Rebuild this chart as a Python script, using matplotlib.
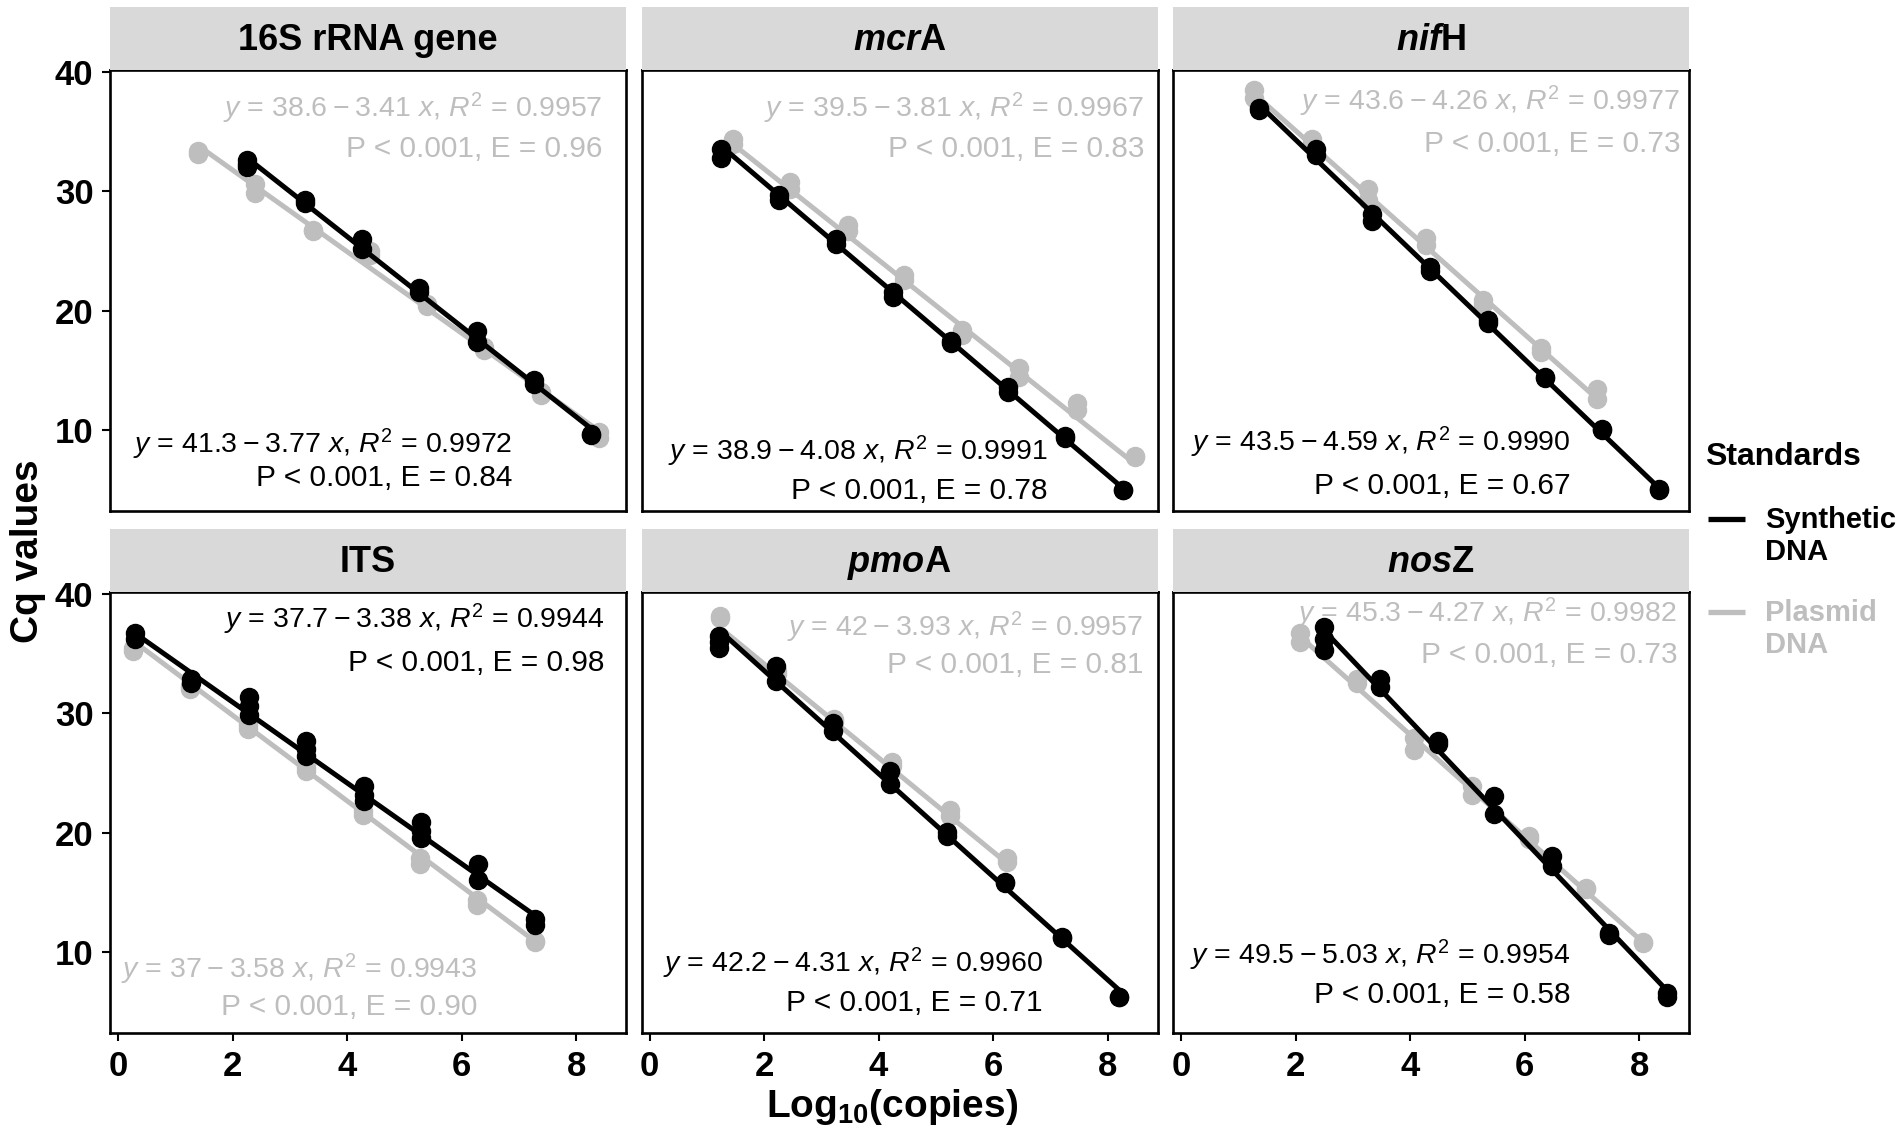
import numpy as np
import matplotlib
matplotlib.use("Agg")
import matplotlib.pyplot as plt
from matplotlib.lines import Line2D

plt.rcParams['font.family'] = ['Liberation Sans', 'DejaVu Sans']
plt.rcParams['mathtext.fontset'] = 'custom'
plt.rcParams['mathtext.rm'] = 'Liberation Sans'
plt.rcParams['mathtext.it'] = 'Liberation Sans:italic'
plt.rcParams['mathtext.bf'] = 'Liberation Sans:bold'
plt.rcParams['mathtext.bfit'] = 'Liberation Sans:italic:bold'

# ---- data ----
genes = ['16S rRNA gene', 'mcrA', 'nifH', 'ITS', 'pmoA', 'nosZ']
strip_labels = ['16S rRNA gene', r'$\mathbfit{mcr}$A', r'$\mathbfit{nif}$H',
                'ITS', r'$\mathbfit{pmo}$A', r'$\mathbfit{nos}$Z']
standards = ['Synthetic DNA', 'Plasmid DNA']

# log10 copies of each dilution, synthetic DNA
syn_x = {
    '16S rRNA gene': [2.26, 3.26, 4.26, 5.26, 6.26, 7.26, 8.26],
    'mcrA': [1.25, 2.26, 3.26, 4.26, 5.27, 6.26, 7.26, 8.27],
    'nifH': [1.36, 2.35, 3.34, 4.35, 5.36, 6.35, 7.35, 8.35],
    'ITS': [0.29, 1.28, 2.28, 3.29, 4.29, 5.29, 6.29, 7.28],
    'pmoA': [1.21, 2.21, 3.21, 4.20, 5.20, 6.21, 7.21, 8.20],
    'nosZ': [2.49, 3.48, 4.48, 5.47, 6.47, 7.48, 8.48],
}
# Cq replicates per dilution, synthetic DNA
syn_cq = {
    '16S rRNA gene': [[32.6, 32.3, 32.0], [29.3, 29.0], [26.0, 25.2], [21.9, 21.6],
                      [18.3, 17.4], [14.2, 13.9], [9.7, 9.6]],
    'mcrA': [[33.5, 32.8], [29.7, 29.3], [26.0, 25.6], [21.6, 21.2], [17.5, 17.3],
             [13.6, 13.2], [9.5, 9.4], [5.0, 5.0]],
    'nifH': [[37.0, 36.8], [33.5, 33.0], [28.1, 27.5], [23.7, 23.3], [19.2, 19.0],
             [14.5, 14.4], [10.1, 10.0], [5.1, 5.0]],
    'ITS': [[36.7, 36.2], [32.9, 32.5], [31.4, 30.6, 29.9], [27.7, 27.0, 26.4],
            [23.9, 23.2, 22.7], [20.9, 20.2, 19.6], [17.4, 16.1], [12.8, 12.3]],
    'pmoA': [[36.5, 36.0, 35.5], [34.0, 32.7], [29.2, 28.5], [25.2, 24.1],
             [20.1, 19.7], [15.9, 15.8], [11.3, 11.2], [6.3, 6.3]],
    'nosZ': [[37.2, 36.2, 35.3], [32.9, 32.2], [27.7, 27.4], [23.1, 21.6],
             [18.1, 17.2], [11.6, 11.5], [6.6, 6.3]],
}
# plasmid DNA
pla_x = {
    '16S rRNA gene': [1.40, 2.39, 3.40, 4.40, 5.39, 6.39, 7.39, 8.39],
    'mcrA': [1.45, 2.45, 3.46, 4.45, 5.45, 6.46, 7.46, 8.47],
    'nifH': [1.27, 2.28, 3.26, 4.27, 5.28, 6.28, 7.26],
    'ITS': [0.27, 1.25, 2.27, 3.28, 4.27, 5.27, 6.26, 7.28],
    'pmoA': [1.23, 2.23, 3.22, 4.24, 5.24, 6.24],
    'nosZ': [2.07, 3.07, 4.06, 5.08, 6.07, 7.08, 8.07],
}
pla_cq = {
    '16S rRNA gene': [[33.4, 33.1], [30.6, 29.9], [26.8, 26.7], [25.0, 24.7],
                      [20.6, 20.4], [17.0, 16.7], [13.2, 13.0], [9.9, 9.4]],
    'mcrA': [[34.4, 34.0], [30.8, 30.2], [27.2, 26.7], [23.0, 22.6], [18.4, 18.0],
             [15.2, 14.5], [12.3, 11.7], [7.9, 7.8]],
    'nifH': [[38.5, 37.8], [34.4, 34.0], [30.2, 29.3], [26.1, 25.5], [20.9, 20.6],
             [16.9, 16.6], [13.5, 12.6]],
    'ITS': [[35.5, 35.2], [32.3, 32.0], [29.0, 28.7], [25.5, 25.2], [21.8, 21.5],
            [17.9, 17.4], [14.4, 14.0], [11.0, 10.9]],
    'pmoA': [[38.1, 38.0], [33.5, 33.3], [29.5, 29.3], [25.9, 25.6], [21.9, 21.4],
             [17.9, 17.6]],
    'nosZ': [[36.7, 36.0], [32.9, 32.5], [27.9, 26.9], [23.9, 23.2], [19.7, 19.5],
             [15.4, 15.3], [10.9, 10.8]],
}

# fitted standard curves: intercept, slope, R2, efficiency
syn_fit = {
    '16S rRNA gene': (41.3, -3.77, '0.9972', '0.84'),
    'mcrA': (38.9, -4.08, '0.9991', '0.78'),
    'nifH': (43.5, -4.59, '0.9990', '0.67'),
    'ITS': (37.7, -3.38, '0.9944', '0.98'),
    'pmoA': (42.2, -4.31, '0.9960', '0.71'),
    'nosZ': (49.5, -5.03, '0.9954', '0.58'),
}
pla_fit = {
    '16S rRNA gene': (38.6, -3.41, '0.9957', '0.96'),
    'mcrA': (39.5, -3.81, '0.9967', '0.83'),
    'nifH': (43.6, -4.26, '0.9977', '0.73'),
    'ITS': (37, -3.58, '0.9943', '0.90'),
    'pmoA': (42, -3.93, '0.9957', '0.81'),
    'nosZ': (45.3, -4.27, '0.9982', '0.73'),
}

# ---- layout ----
W, H = 1902, 1142
col_left = [110, 641.5, 1173]
panel_w = 516
row_top = [70.2, 592.2]
panel_h = 441
strip_h = 63

# label anchor (right x, y line1, y line2) in axes fraction from top
syn_pos = {
    '16S rRNA gene': (0.779, 0.849, 0.925),
    'mcrA': (0.787, 0.865, 0.955),
    'nifH': (0.771, 0.845, 0.942),
    'ITS': (0.958, 0.061, 0.161),
    'pmoA': (0.778, 0.842, 0.932),
    'nosZ': (0.770, 0.824, 0.914),
}
pla_pos = {
    '16S rRNA gene': (0.955, 0.087, 0.179),
    'mcrA': (0.974, 0.087, 0.178),
    'nifH': (0.983, 0.071, 0.167),
    'ITS': (0.712, 0.856, 0.941),
    'pmoA': (0.972, 0.079, 0.165),
    'nosZ': (0.977, 0.048, 0.143),
}

BLACK = '#000000'
GREY = '#BEBEBE'
STRIP = '#D9D9D9'
TS = '\u2009'  # thin space

fig = plt.figure(figsize=(W / 100, H / 100), dpi=100)


def eq_text(b0, b1, r2):
    sign = '\u2212' if b1 < 0 else '+'
    return (r'$\mathit{y}$ = %g%s%s%s%.2f $\mathit{x}$, $\mathit{R}^2$ = %s'
            % (b0, TS, sign, TS, abs(b1), r2))


def draw_series(ax, xs, cqs, fit, color, z):
    px, py = [], []
    for xv, reps in zip(xs, cqs):
        for c in reps:
            px.append(xv)
            py.append(c)
    ax.plot(px, py, 'o', color=color, ms=13, mec=color, zorder=z)
    b0, b1 = fit[0], fit[1]
    xl = np.array([min(xs), max(xs)])
    ax.plot(xl, b0 + b1 * xl, '-', color=color, lw=3.6, zorder=z + 1,
            solid_capstyle='butt')


def draw_label(ax, pos, fit, color):
    xr, y1, y2 = pos
    ax.text(xr, 1 - y1, eq_text(fit[0], fit[1], fit[2]), transform=ax.transAxes,
            ha='right', va='center', color=color, fontsize=20.5, zorder=10)
    ax.text(xr, 1 - y2, 'P < 0.001, E = %s' % fit[3], transform=ax.transAxes,
            ha='right', va='center', color=color, fontsize=21.5, zorder=10)


for i, g in enumerate(genes):
    r, c = divmod(i, 3)
    left = col_left[c] / W
    bottom = 1 - (row_top[r] + panel_h) / H
    ax = fig.add_axes([left, bottom, panel_w / W, panel_h / H])

    draw_series(ax, pla_x[g], pla_cq[g], pla_fit[g], GREY, 2)
    draw_series(ax, syn_x[g], syn_cq[g], syn_fit[g], BLACK, 4)
    draw_label(ax, pla_pos[g], pla_fit[g], GREY)
    draw_label(ax, syn_pos[g], syn_fit[g], BLACK)

    ax.set_xlim(-0.14, 8.87)
    ax.set_ylim(3.25, 40.13)
    ax.set_xticks([0, 2, 4, 6, 8])
    ax.set_yticks([10, 20, 30, 40])
    for s in ax.spines.values():
        s.set_linewidth(1.9)
    ax.tick_params(length=6, width=1.5, labelsize=25, pad=6)
    for lab in ax.get_xticklabels() + ax.get_yticklabels():
        lab.set_fontweight('bold')
    if r == 0:
        ax.tick_params(axis='x', bottom=False, labelbottom=False)
    if c != 0:
        ax.tick_params(axis='y', left=False, labelleft=False)

    # facet strip
    sax = fig.add_axes([left, 1 - row_top[r] / H, panel_w / W, strip_h / H])
    sax.set_facecolor(STRIP)
    sax.set_xticks([])
    sax.set_yticks([])
    for s in sax.spines.values():
        s.set_visible(False)
    sax.text(0.5, 0.47, strip_labels[i], transform=sax.transAxes, ha='center',
             va='center', fontsize=26, fontweight='bold')

fig.text(28 / W, 1 - 551 / H, 'Cq values', rotation=90, ha='center', va='center',
         fontsize=28, fontweight='bold')
fig.text(892 / W, 1 - 1107 / H, r'Log$_{\mathbf{10}}$(copies)', ha='center',
         va='center', fontsize=28, fontweight='bold')

# legend, drawn like the ggplot guide: key next to the first line of the label
fig.text(1705 / W, 1 - 457 / H, 'Standards', ha='left', va='center',
         fontsize=23, fontweight='bold')
key_y = [519, 612]
for lab, col, ky in zip(standards, [BLACK, GREY], key_y):
    fig.add_artist(Line2D([1708 / W, 1745 / W], [1 - ky / H, 1 - ky / H],
                          color=col, lw=3.8, solid_capstyle='butt'))
    for j, part in enumerate(lab.split(' ')):
        fig.text(1765 / W, 1 - (ky + 1 + 32 * j) / H, part, ha='left',
                 va='center', fontsize=21, fontweight='bold', color=col)

fig.savefig('out.png', dpi=100)
